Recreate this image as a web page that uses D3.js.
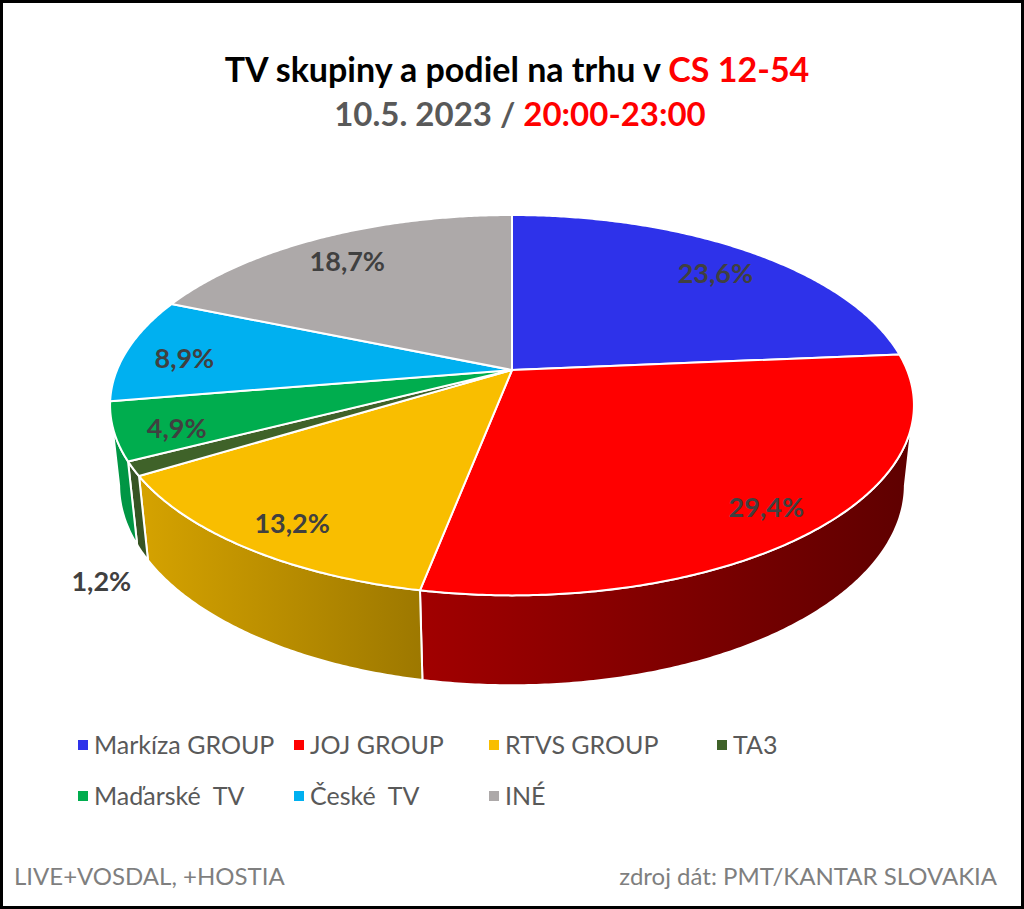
<!DOCTYPE html>
<html><head><meta charset="utf-8">
<script src="https://cdn.jsdelivr.net/npm/d3@7"></script>
<style>
html,body{margin:0;padding:0;background:#fff;}
svg{display:block;font-family:Lato,"Open Sans",sans-serif;}
</style></head>
<body>
<svg id="chart" width="1024" height="909"></svg>
<script>
// ---- data ----
const categories = ["Markíza GROUP","JOJ GROUP","RTVS GROUP","TA3","Maďarské  TV","České  TV","INÉ"];
const values = [23.6, 29.4, 13.2, 1.2, 4.9, 8.9, 18.7];
const colors = ["#2E32EA","#FF0000","#F9BE00","#3F6229","#00AD4E","#00B0F0","#ADA9A9"];
const titleLine1 = ["TV skupiny a podiel na trhu v ", "CS 12-54"];
const titleLine2 = ["10.5. 2023 / ", "20:00-23:00"];
const footLeft = "LIVE+VOSDAL, +HOSTIA";
const footRight = "zdroj dát: PMT/KANTAR SLOVAKIA";

// ---- layout ----
const W = 1024, H0 = 909;
const svg = d3.select("#chart");
svg.append("rect").attr("x",1.5).attr("y",1.5).attr("width",W-3).attr("height",H0-3)
  .attr("fill","#fff").attr("stroke","#000").attr("stroke-width",3);

// perspective projection of a disc
const cx = 512, cy = 370;
const D = 1, R = 0.209, TH = 0.048;
const sinP = 0.465, cosP = Math.sqrt(1 - sinP*sinP);
const f = 395 / R;
function proj(theta, r, h) {
  const x = R * r * Math.sin(theta), z = R * r * Math.cos(theta), y = -TH * h;
  const yc = y * cosP + z * sinP;
  const depth = D + z * cosP - y * sinP;
  return [cx + f * x / depth, cy - f * yc / depth];
}
const kk = R * cosP / D;
const thRight = Math.acos(-kk), thLeft = 2 * Math.PI - thRight;

const pie = d3.pie().sort(null).value(d => d)(values);
const defs = svg.append("defs");
const line = d3.line();
const step = Math.PI / 360;

function arcPts(a0, a1, r, h) {
  const n = Math.max(2, Math.ceil((a1 - a0) / step));
  return d3.range(n + 1).map(i => proj(a0 + (a1 - a0) * i / n, r, h));
}

// walls (outer sides)
const gX = d3.scaleLinear().domain([0, 0.39, 1]).range([0.88, 0.63, 0.37]);
pie.forEach((p, i) => {
  const a0 = Math.max(p.startAngle, thRight), a1 = Math.min(p.endAngle, thLeft);
  if (a1 <= a0) return;
  const g = defs.append("linearGradient").attr("id", "wg" + i)
    .attr("gradientUnits", "userSpaceOnUse").attr("x1", 110).attr("x2", 912).attr("y1", 0).attr("y2", 0);
  const base = d3.rgb(colors[i]);
  [0, 0.39, 1].forEach(o => {
    const k = gX(o);
    g.append("stop").attr("offset", o).attr("stop-color", d3.rgb(base.r * k, base.g * k, base.b * k).formatHex());
  });
  const pts = arcPts(a0, a1, 1, 0).concat(arcPts(a0, a1, 1, 1).reverse());
  svg.append("path").attr("d", line(pts) + "Z")
    .attr("fill", `url(#wg${i})`).attr("stroke", "#fff").attr("stroke-width", 2).attr("stroke-linejoin","round");
});

// top faces
pie.forEach((p, i) => {
  const pts = [proj(0, 0, 0)].concat(arcPts(p.startAngle, p.endAngle, 1, 0));
  svg.append("path").attr("d", line(pts) + "Z")
    .attr("fill", colors[i]).attr("stroke", "#fff").attr("stroke-width", 2).attr("stroke-linejoin","round");
});

// data labels
const fmt = v => d3.format(".1f")(v).replace(".", ",") + "%";
pie.forEach((p, i) => {
  const mid = (p.startAngle + p.endAngle) / 2;
  let pt, dy;
  if (p.value >= 2) { pt = proj(mid, 0.85, 0); dy = 16; }
  else { pt = proj(mid, 1.1, 1); dy = 27; }
  svg.append("text").attr("x", pt[0]).attr("y", pt[1] + dy)
    .attr("text-anchor", "middle").attr("font-weight", 700).attr("font-size", 27)
    .attr("fill", "#404040").text(fmt(p.value));
});

// title
const t1 = svg.append("text").attr("x", 517).attr("y", 82).attr("text-anchor", "middle")
  .attr("font-weight", 700).attr("font-size", 34);
t1.append("tspan").attr("fill", "#000").text(titleLine1[0]);
t1.append("tspan").attr("fill", "#FF0000").text(titleLine1[1]);
const t2 = svg.append("text").attr("x", 520).attr("y", 126).attr("text-anchor", "middle")
  .attr("font-weight", 700).attr("font-size", 33);
t2.append("tspan").attr("fill", "#595959").text(titleLine2[0]);
t2.append("tspan").attr("fill", "#FF0000").text(titleLine2[1]);

// legend
const legColX = [78, 294, 489, 717];
const legRowY = [745, 796];
categories.forEach((c, i) => {
  const x = legColX[i % 4], y = legRowY[Math.floor(i / 4)];
  svg.append("rect").attr("x", x).attr("y", y - 5).attr("width", 10).attr("height", 10).attr("fill", colors[i]);
  svg.append("text").attr("x", x + 16).attr("y", y + 9).attr("font-size", 25)
    .attr("fill", "#595959").attr("xml:space", "preserve").style("white-space", "pre").text(c);
});

// footer
svg.append("text").attr("x", 14).attr("y", 885).attr("font-size", 24).attr("fill", "#7F7F7F").text(footLeft);
svg.append("text").attr("x", 997).attr("y", 885).attr("text-anchor", "end").attr("font-size", 24).attr("fill", "#7F7F7F").text(footRight);
</script>
</body></html>
